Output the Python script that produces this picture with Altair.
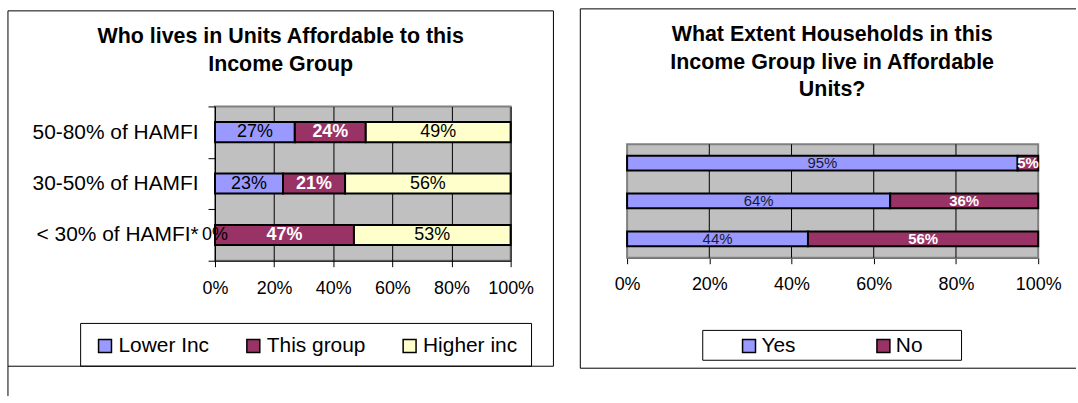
import altair as alt
import pandas as pd

# ---------------- data ----------------
categories = ["50-80% of HAMFI", "30-50% of HAMFI", "< 30% of HAMFI*"]

left_series = ["Lower Inc", "This group", "Higher inc"]
lower_inc = [27, 23, 0]
this_group = [24, 21, 47]
higher_inc = [49, 56, 53]
left_colors = ["#9999FF", "#993366", "#FFFFCC"]

right_series = ["Yes", "No"]
yes_vals = [95, 64, 44]
no_vals = [5, 36, 56]
right_colors = ["#9999FF", "#993366"]

x_ticks = [0, 20, 40, 60, 80, 100]
left_title = ["Who lives in Units Affordable to this", "Income Group"]
right_title = ["What Extent Households in this", "Income Group live in Affordable", "Units?"]

FONT = "Liberation Sans"

left_rows = []
for i, c in enumerate(categories):
    for j, vals in enumerate([lower_inc, this_group, higher_inc]):
        left_rows.append({"cat": c, "series": left_series[j], "order": j, "value": vals[i]})
left_df = pd.DataFrame(left_rows)

right_rows = []
for i, c in enumerate(categories):
    for j, vals in enumerate([yes_vals, no_vals]):
        right_rows.append({"cat": c, "answer": right_series[j], "order": j, "value": vals[i]})
right_df = pd.DataFrame(right_rows)

one = pd.DataFrame({"k": [0]})


def box(x1, x2, y1, y2, fill="transparent", stroke="black", sw=1):
    return alt.Chart(one).mark_rect(fill=fill, stroke=stroke, strokeWidth=sw).encode(
        x=alt.value(x1), x2=alt.value(x2), y=alt.value(y1), y2=alt.value(y2))


def line(x1, x2, y1, y2):
    return alt.Chart(one).mark_rule(color="black", strokeWidth=1).encode(
        x=alt.value(x1), x2=alt.value(x2), y=alt.value(y1), y2=alt.value(y2))


def x_axis(pad, grid):
    return alt.Axis(values=x_ticks, labelExpr="datum.value + '%'", title=None, grid=grid,
                    gridColor="black", gridWidth=1, gridOpacity=1, tickSize=6,
                    tickColor="black", domainColor="black", domainWidth=1,
                    labelFontSize=18, labelPadding=pad, labelColor="black", labelFont=FONT,
                    labelFlush=False, labelOverlap=False)


x_scale = alt.Scale(domain=[0, 100], nice=False)

# ---------------- left panel ----------------
y_left = alt.Y("cat:N", sort=categories, scale=alt.Scale(paddingInner=0, paddingOuter=0),
               axis=alt.Axis(title=None, labelFontSize=21, labelColor="black", labelFont=FONT,
                             tickColor="black", tickSize=7, tickBand="extent", labelPadding=10,
                             domainColor="black", domainWidth=1, grid=False))

left_base = alt.Chart(left_df).transform_stack(
    stack="value", as_=["x0", "x1"], groupby=["cat"], sort=[alt.SortField("order", "ascending")]
).transform_calculate(mid="(datum.x0 + datum.x1) / 2", label="datum.value + '%'")

left_bars = left_base.mark_bar(height={"band": 0.39}, stroke="black", strokeWidth=2).encode(
    y=y_left,
    x=alt.X("x0:Q", scale=x_scale, axis=x_axis(13, True)),
    x2="x1:Q",
    color=alt.Color("series:N", scale=alt.Scale(domain=left_series, range=left_colors),
                    legend=alt.Legend(title=None, orient="none", legendX=-121, legendY=230,
                                      direction="horizontal", symbolType="square", symbolSize=169,
                                      symbolStrokeColor="black", symbolStrokeWidth=1.5,
                                      labelFontSize=21, labelFont=FONT, labelColor="black",
                                      labelOffset=3, columnPadding=33, padding=0)),
)

left_text_plain = left_base.transform_filter("datum.series !== 'This group'").mark_text(
    fontSize=18, font=FONT, color="black", baseline="middle", align="center").encode(
    y=y_left, x=alt.X("mid:Q", scale=x_scale), text="label:N")
left_text_bold = left_base.transform_filter("datum.series === 'This group'").mark_text(
    fontSize=18, font=FONT, color="white", fontWeight="bold", baseline="middle", align="center").encode(
    y=y_left, x=alt.X("mid:Q", scale=x_scale), text="label:N")

left_title_mark = alt.Chart(one).mark_text(
    text=left_title, fontSize=21.5, font=FONT, fontWeight="bold", lineHeight=28,
    align="center", baseline="middle", color="black").encode(x=alt.value(66), y=alt.value(-70))

left = alt.layer(
    box(-208, 340, -96, 261),
    line(-208, -208, 261, 291),
    box(-135, 318, 218, 261),
    left_bars, left_text_plain, left_text_bold, left_title_mark,
).properties(width=297, height=155)

# ---------------- right panel ----------------
# plot origin shares the left panel's top; the bars occupy the lower 114 px band
y_right = alt.Y("cat:N", sort=categories,
                scale=alt.Scale(paddingInner=0, paddingOuter=0, range=[38, 152]), axis=None)

right_base = alt.Chart(right_df).transform_stack(
    stack="value", as_=["x0", "x1"], groupby=["cat"], sort=[alt.SortField("order", "ascending")]
).transform_calculate(mid="(datum.x0 + datum.x1) / 2", label="datum.value + '%'")

right_bg = box(0, 413, 38, 152, fill="#C0C0C0", stroke="#808080", sw=2)

right_grid = alt.Chart(pd.DataFrame({"t": x_ticks[1:-1]})).mark_rule(
    color="black", strokeWidth=1).encode(
    x=alt.X("t:Q", scale=x_scale), y=alt.value(38), y2=alt.value(152))

right_bars = right_base.mark_bar(height={"band": 0.39}, stroke="black", strokeWidth=2).encode(
    y=y_right,
    x=alt.X("x0:Q", scale=x_scale, axis=x_axis(12, False)),
    x2="x1:Q",
    color=alt.Color("answer:N", scale=alt.Scale(domain=right_series, range=right_colors),
                    legend=alt.Legend(title=None, orient="none", legendX=112, legendY=230,
                                      direction="horizontal", symbolType="square", symbolSize=169,
                                      symbolStrokeColor="black", symbolStrokeWidth=1.5,
                                      labelFontSize=21, labelFont=FONT, labelColor="black",
                                      labelOffset=2, columnPadding=77, padding=0)),
)

right_text_plain = right_base.transform_filter("datum.answer === 'Yes'").mark_text(
    fontSize=15, font=FONT, color="#1a1a33", baseline="middle", align="center").encode(
    y=y_right, x=alt.X("mid:Q", scale=x_scale), text="label:N")
right_text_bold = right_base.transform_filter("datum.answer === 'No'").mark_text(
    fontSize=15, font=FONT, color="white", fontWeight="bold", baseline="middle", align="center").encode(
    y=y_right, x=alt.X("mid:Q", scale=x_scale), text="label:N")

right_title_mark = alt.Chart(one).mark_text(
    text=right_title, fontSize=21.5, font=FONT, fontWeight="bold", lineHeight=28,
    align="center", baseline="middle", color="black").encode(x=alt.value(206), y=alt.value(-72))

right = alt.layer(
    right_bg, right_grid,
    line(-47, 451, -98, -98),
    line(-47, -47, -98, 263),
    line(-47, 451, 263, 263),
    box(76, 336, 225, 255),
    right_bars, right_text_plain, right_text_bold, right_title_mark,
).properties(width=413, height=152,
             view=alt.ViewBackground(fill="white", stroke="transparent"))

chart = alt.hconcat(left, right, spacing=23).resolve_scale(
    color="independent", x="independent", y="independent"
).resolve_legend(color="independent").properties(
    padding={"left": 6, "top": 6, "right": 0, "bottom": 0}, background="white"
).configure(font=FONT).configure_view(fill="#C0C0C0", stroke="#808080", strokeWidth=2)

chart.save("out.html", embed_options={"renderer": "svg", "actions": False})
